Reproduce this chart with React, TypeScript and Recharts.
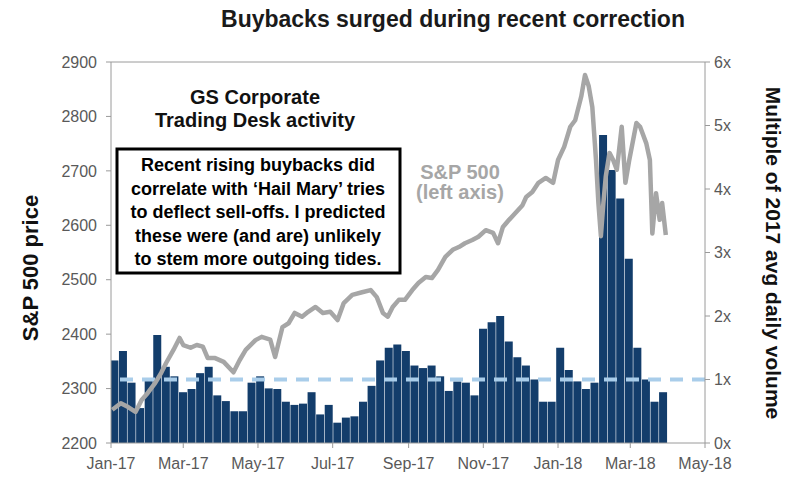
import React from 'react';
import { ComposedChart, Bar, Line, XAxis, YAxis, ReferenceLine } from 'recharts';

// x positions are days since 1 Jan 2017
const FONT = '"Liberation Sans", Arial, sans-serif';

const tickDates = ['2017-01-01', '2017-03-01', '2017-05-01', '2017-07-01', '2017-09-01', '2017-11-01', '2018-01-01', '2018-03-01', '2018-05-01'];
const tickLabels = ['Jan-17', 'Mar-17', 'May-17', 'Jul-17', 'Sep-17', 'Nov-17', 'Jan-18', 'Mar-18', 'May-18'];

// GS corporate desk buybacks, multiple of 2017 avg daily volume, one bar per week (first week of Jan-17 onwards)
const firstWeekMid = '2017-01-04';
const buybackMultiple = [
  1.3, 1.45, 0.95, 0.55, 1.0, 1.7, 1.2, 1.05, 0.8, 0.85,
  1.1, 1.2, 0.75, 0.66, 0.5, 0.5, 0.95, 1.05, 0.86, 0.85,
  0.65, 0.6, 0.62, 0.8, 0.45, 0.6, 0.32, 0.4, 0.42, 0.65,
  0.9, 1.3, 1.5, 1.55, 1.45, 1.22, 1.18, 1.22, 1.05, 0.82,
  0.97, 0.95, 0.75, 1.8, 1.9, 2.0, 1.6, 1.35, 1.22, 1.0,
  0.65, 0.65, 1.5, 1.15, 0.97, 0.85, 0.95, 4.85, 4.3, 3.85,
  2.9, 1.5, 1.0, 0.65, 0.8,
];

const spDates = [
  '2017-01-02', '2017-01-09', '2017-01-15', '2017-01-21', '2017-01-26', '2017-01-31', '2017-02-06', '2017-02-11',
  '2017-02-15', '2017-02-21', '2017-02-26', '2017-03-01', '2017-03-07', '2017-03-12', '2017-03-17', '2017-03-21',
  '2017-03-27', '2017-04-03', '2017-04-11', '2017-04-16', '2017-04-21', '2017-04-29', '2017-05-04', '2017-05-11',
  '2017-05-15', '2017-05-21', '2017-05-26', '2017-05-31', '2017-06-06', '2017-06-11', '2017-06-17', '2017-06-23',
  '2017-06-29', '2017-07-05', '2017-07-10', '2017-07-17', '2017-07-25', '2017-08-01', '2017-08-06', '2017-08-11',
  '2017-08-15', '2017-08-19', '2017-08-24', '2017-08-29', '2017-09-04', '2017-09-09', '2017-09-15', '2017-09-20',
  '2017-09-25', '2017-10-01', '2017-10-07', '2017-10-12', '2017-10-17', '2017-10-23', '2017-10-28', '2017-11-03',
  '2017-11-09', '2017-11-13', '2017-11-17', '2017-11-22', '2017-11-27', '2017-12-03', '2017-12-06', '2017-12-11',
  '2017-12-16', '2017-12-22', '2017-12-28', '2018-01-01', '2018-01-06', '2018-01-11', '2018-01-15', '2018-01-20',
  '2018-01-23', '2018-01-26', '2018-01-29', '2018-02-01', '2018-02-03', '2018-02-05', '2018-02-07', '2018-02-09',
  '2018-02-12', '2018-02-15', '2018-02-18', '2018-02-22', '2018-02-25', '2018-02-28', '2018-03-06', '2018-03-09',
  '2018-03-14', '2018-03-17', '2018-03-19', '2018-03-22', '2018-03-25', '2018-03-27', '2018-03-30',
];
const spPrice = [
  2261, 2273, 2266, 2257, 2279, 2292, 2310, 2329,
  2347, 2371, 2393, 2380, 2375, 2380, 2377, 2356,
  2356, 2349, 2330, 2352, 2371, 2389, 2395, 2390,
  2358, 2413, 2420, 2439, 2432, 2441, 2450, 2439,
  2441, 2426, 2457, 2472, 2477, 2481, 2468, 2439,
  2432, 2450, 2463, 2463, 2481, 2494, 2505, 2503,
  2518, 2542, 2555, 2560, 2567, 2573, 2579, 2591,
  2586, 2567, 2597, 2610, 2622, 2637, 2652, 2661,
  2678, 2687, 2678, 2720, 2744, 2781, 2793, 2837,
  2876, 2856, 2817, 2720, 2640, 2580, 2640, 2690,
  2733, 2720, 2702, 2781, 2678, 2718, 2788, 2781,
  2751, 2720, 2585, 2659, 2610, 2641, 2582,
];

const leftTicks = [2200, 2300, 2400, 2500, 2600, 2700, 2800, 2900];
const rightTicks = [0, 1, 2, 3, 4, 5, 6];

const boxLines = [
  'Recent rising buybacks did',
  'correlate with \u2018Hail Mary\u2019 tries',
  'to deflect sell-offs. I predicted',
  'these were (and are) unlikely',
  'to stem more outgoing tides.',
];

const dayOf = (s: string) => {
  const [y, m, d] = s.split('-').map(Number);
  return (Date.UTC(y, m - 1, d) - Date.UTC(2017, 0, 1)) / 86400000;
};

const tickDays = tickDates.map(dayOf);
const barData = buybackMultiple.map((v, i) => ({ day: dayOf(firstWeekMid) + 7 * i, mult: v }));
const lineData = spDates.map((d, i) => ({ day: dayOf(d), price: spPrice[i] }));

const axisGrey = '#9a9a9a';
const tickStyle = { fill: '#595959', fontSize: 16, fontFamily: FONT };

export default function App() {
  return (
    <div style={{ position: 'absolute', left: 0, top: 0, width: 800, height: 480, background: '#fff', fontFamily: FONT }}>
      <ComposedChart width={800} height={480} data={barData} margin={{ top: 62, right: 65, bottom: 7, left: 41 }}>
        <XAxis
          xAxisId="bars"
          dataKey="day"
          type="number"
          domain={[0, 485]}
          ticks={tickDays}
          interval={0}
          tickFormatter={(v: number) => tickLabels[tickDays.indexOf(v)] ?? ''}
          height={30}
          tickSize={5}
          tickMargin={10}
          tick={tickStyle}
          stroke={axisGrey}
          allowDataOverflow
        />
        <XAxis xAxisId="line" dataKey="day" type="number" domain={[0, 485]} hide allowDataOverflow />
        <YAxis
          yAxisId="left"
          domain={[2200, 2900]}
          ticks={leftTicks}
          interval={0}
          width={70}
          tickSize={5}
          tickMargin={9}
          tick={tickStyle}
          stroke={axisGrey}
          allowDataOverflow
        />
        <YAxis
          yAxisId="right"
          orientation="right"
          domain={[0, 6]}
          ticks={rightTicks}
          interval={0}
          tickFormatter={(v: number) => `${v}x`}
          width={30}
          tickSize={5}
          tickMargin={4}
          tick={tickStyle}
          stroke={axisGrey}
          allowDataOverflow
        />
        <ReferenceLine xAxisId="bars" yAxisId="left" y={2900} stroke={axisGrey} strokeWidth={1} />
        <Bar xAxisId="bars" yAxisId="right" dataKey="mult" fill="#133d6b" barSize={8} isAnimationActive={false} />
        <ReferenceLine xAxisId="bars" yAxisId="right" y={1} stroke="#a9cdea" strokeWidth={4} strokeDasharray="13 9" />
        <Line
          xAxisId="line"
          yAxisId="left"
          data={lineData}
          dataKey="price"
          stroke="#a6a6a6"
          strokeWidth={4.5}
          dot={false}
          activeDot={false}
          strokeLinejoin="round"
          isAnimationActive={false}
        />
      </ComposedChart>

      <svg width={800} height={480} style={{ position: 'absolute', left: 0, top: 0, pointerEvents: 'none' }} fontFamily={FONT}>
        <text x={453} y={27} textAnchor="middle" fontSize={23} fontWeight="bold" fill="#1a1a1a">
          Buybacks surged during recent correction
        </text>
        <text transform="translate(38 268) rotate(-90)" textAnchor="middle" fontSize={22} fontWeight="bold" fill="#111">
          S&amp;P 500 price
        </text>
        <text transform="translate(766 253) rotate(90)" textAnchor="middle" fontSize={21} fontWeight="bold" fill="#111">
          Multiple of 2017 avg daily volume
        </text>
        <text x={255} y={104} textAnchor="middle" fontSize={20} fontWeight="bold" fill="#111">GS Corporate</text>
        <text x={255} y={127} textAnchor="middle" fontSize={20} fontWeight="bold" fill="#111">Trading Desk activity</text>
        <rect x={117} y={149} width={283} height={124} fill="#fff" stroke="#000" strokeWidth={3} />
        {boxLines.map((t, i) => (
          <text key={t} x={258} y={171 + i * 23.5} textAnchor="middle" fontSize={18} fontWeight="bold" fill="#000">
            {t}
          </text>
        ))}
        <text x={460} y={179} textAnchor="middle" fontSize={20} fontWeight="bold" fill="#a6a6a6">S&amp;P 500</text>
        <text x={460} y={199} textAnchor="middle" fontSize={20} fontWeight="bold" fill="#a6a6a6">(left axis)</text>
      </svg>
    </div>
  );
}
